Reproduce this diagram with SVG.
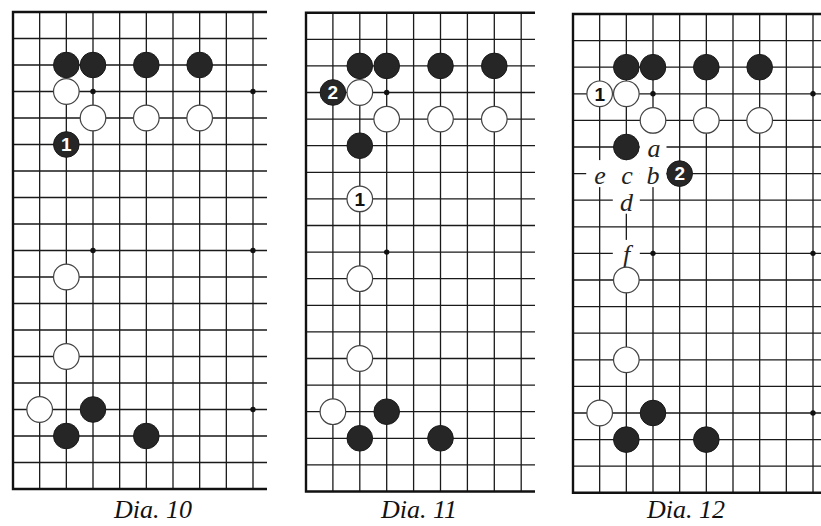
<svg xmlns="http://www.w3.org/2000/svg" width="821" height="526" viewBox="0 0 821 526">
<style>
.bg{fill:#ffffff}
.grid{stroke:#1a1a1a;stroke-width:1.3;fill:none}
.edge{stroke:#111;stroke-width:2.4;fill:none}
.b{fill:#262626;stroke:#1a1a1a;stroke-width:1}
.w{fill:#ffffff;stroke:#444;stroke-width:1.2}
.star{fill:#111}
.mask{fill:#ffffff}
.nw{font-family:"Liberation Sans",Arial,sans-serif;font-weight:bold;font-size:19px;fill:#ffffff;text-anchor:middle}
.nb{font-family:"Liberation Sans",Arial,sans-serif;font-weight:bold;font-size:19px;fill:#111;text-anchor:middle}
.lbl{font-family:"Liberation Serif","Times New Roman",serif;font-style:italic;font-size:26px;fill:#222;text-anchor:middle}
.cap{font-family:"Liberation Serif","Times New Roman",serif;font-style:italic;font-size:26px;fill:#111;text-anchor:middle}
</style>
<rect class="bg" x="0" y="0" width="821" height="526"/>

<!-- Dia. 10 -->
<g id="dia10">
<g id="dia10-grid">
<path class="grid" d="M39.67 12V489M66.33 12V489M93 12V489M119.67 12V489M146.33 12V489M173 12V489M199.67 12V489M226.33 12V489M253 12V489"/>
<path class="grid" d="M13 38.5H267M13 65H267M13 91.5H267M13 118H267M13 144.5H267M13 171H267M13 197.5H267M13 224H267M13 250.5H267M13 277H267M13 303.5H267M13 330H267M13 356.5H267M13 383H267M13 409.5H267M13 436H267M13 462.5H267"/>
<path class="edge" d="M267 12H13V489H267"/>
<circle class="star" cx="93" cy="91.5" r="2.7"/><circle class="star" cx="253" cy="91.5" r="2.7"/>
<circle class="star" cx="93" cy="250.5" r="2.7"/><circle class="star" cx="253" cy="250.5" r="2.7"/>
<circle class="star" cx="253" cy="409.5" r="2.7"/>
</g>
<g id="dia10-stones">
<circle class="b" cx="66.33" cy="65" r="12.8"/><circle class="b" cx="93" cy="65" r="12.8"/>
<circle class="b" cx="146.33" cy="65" r="12.8"/><circle class="b" cx="199.67" cy="65" r="12.8"/>
<circle class="w" cx="66.33" cy="91.5" r="12.8"/>
<circle class="w" cx="93" cy="118" r="12.8"/><circle class="w" cx="146.33" cy="118" r="12.8"/><circle class="w" cx="199.67" cy="118" r="12.8"/>
<g id="dia10-m1"><circle class="b" cx="66.33" cy="144.5" r="12.8"/><text class="nw" x="66.33" y="151.3">1</text></g>
<circle class="w" cx="66.33" cy="277" r="12.8"/>
<circle class="w" cx="66.33" cy="356.5" r="12.8"/>
<circle class="w" cx="39.67" cy="409.5" r="12.8"/>
<circle class="b" cx="93" cy="409.5" r="12.8"/>
<circle class="b" cx="66.33" cy="436" r="12.8"/><circle class="b" cx="146.33" cy="436" r="12.8"/>
</g>
<text id="cap10" class="cap" x="153" y="518">Dia. 10</text>
</g>

<!-- Dia. 11 -->
<g id="dia11">
<g id="dia11-grid">
<path class="grid" d="M332.9 12.7V491.5M359.8 12.7V491.5M386.7 12.7V491.5M413.6 12.7V491.5M440.5 12.7V491.5M467.4 12.7V491.5M494.3 12.7V491.5M521.2 12.7V491.5"/>
<path class="grid" d="M306 39.3H535M306 65.9H535M306 92.5H535M306 119.1H535M306 145.7H535M306 172.3H535M306 198.9H535M306 225.5H535M306 252.1H535M306 278.7H535M306 305.3H535M306 331.9H535M306 358.5H535M306 385.1H535M306 411.7H535M306 438.3H535M306 464.9H535"/>
<path class="edge" d="M535 12.7H306V491.5H535"/>
<circle class="star" cx="386.7" cy="92.5" r="2.7"/><circle class="star" cx="386.7" cy="252.1" r="2.7"/>
</g>
<g id="dia11-stones">
<circle class="b" cx="359.8" cy="65.9" r="12.8"/><circle class="b" cx="386.7" cy="65.9" r="12.8"/>
<circle class="b" cx="440.5" cy="65.9" r="12.8"/><circle class="b" cx="494.3" cy="65.9" r="12.8"/>
<g id="dia11-m2"><circle class="b" cx="332.9" cy="92.5" r="12.8"/><text class="nw" x="332.9" y="99.3">2</text></g>
<circle class="w" cx="359.8" cy="92.5" r="12.8"/>
<circle class="w" cx="386.7" cy="119.1" r="12.8"/><circle class="w" cx="440.5" cy="119.1" r="12.8"/><circle class="w" cx="494.3" cy="119.1" r="12.8"/>
<circle class="b" cx="359.8" cy="145.7" r="12.8"/>
<g id="dia11-m1"><circle class="w" cx="359.8" cy="198.9" r="12.8"/><text class="nb" x="359.8" y="205.7">1</text></g>
<circle class="w" cx="359.8" cy="278.7" r="12.8"/>
<circle class="w" cx="359.8" cy="358.5" r="12.8"/>
<circle class="w" cx="332.9" cy="411.7" r="12.8"/>
<circle class="b" cx="386.7" cy="411.7" r="12.8"/>
<circle class="b" cx="359.8" cy="438.3" r="12.8"/><circle class="b" cx="440.5" cy="438.3" r="12.8"/>
</g>
<text id="cap11" class="cap" x="419" y="518">Dia. 11</text>
</g>

<!-- Dia. 12 -->
<g id="dia12">
<g id="dia12-grid">
<path class="grid" d="M599.67 14V492.8M626.33 14V492.8M653 14V492.8M679.67 14V492.8M706.33 14V492.8M733 14V492.8M759.67 14V492.8M786.33 14V492.8M813 14V492.8"/>
<path class="grid" d="M573 40.6H821M573 67.2H821M573 93.8H821M573 120.4H821M573 147H821M573 173.6H821M573 200.2H821M573 226.8H821M573 253.4H821M573 280H821M573 306.6H821M573 333.2H821M573 359.8H821M573 386.4H821M573 413H821M573 439.6H821M573 466.2H821"/>
<path class="edge" d="M821 14H573V492.8H821"/>
<circle class="star" cx="653" cy="93.8" r="2.7"/><circle class="star" cx="813" cy="93.8" r="2.7"/>
<circle class="star" cx="653" cy="253.4" r="2.7"/><circle class="star" cx="813" cy="253.4" r="2.7"/>
<circle class="star" cx="813" cy="413" r="2.7"/>
</g>
<g id="dia12-labels">
<rect class="mask" x="639.5" y="133.5" width="27" height="27"/><text class="lbl" x="654" y="157">a</text>
<rect class="mask" x="586.2" y="160.1" width="27" height="27"/><text class="lbl" x="600" y="183.6">e</text>
<rect class="mask" x="612.8" y="160.1" width="27" height="27"/><text class="lbl" x="627" y="183.6">c</text>
<rect class="mask" x="639.5" y="160.1" width="27" height="27"/><text class="lbl" x="653" y="183.6">b</text>
<rect class="mask" x="612.8" y="186.7" width="27" height="27"/><text class="lbl" x="626.5" y="211">d</text>
<rect class="mask" x="612.8" y="239.9" width="27" height="27"/><text class="lbl" x="626.5" y="263">f</text>
</g>
<g id="dia12-stones">
<circle class="b" cx="626.33" cy="67.2" r="12.8"/><circle class="b" cx="653" cy="67.2" r="12.8"/>
<circle class="b" cx="706.33" cy="67.2" r="12.8"/><circle class="b" cx="759.67" cy="67.2" r="12.8"/>
<g id="dia12-m1"><circle class="w" cx="599.67" cy="93.8" r="12.8"/><text class="nb" x="599.67" y="100.6">1</text></g>
<circle class="w" cx="626.33" cy="93.8" r="12.8"/>
<circle class="w" cx="653" cy="120.4" r="12.8"/><circle class="w" cx="706.33" cy="120.4" r="12.8"/><circle class="w" cx="759.67" cy="120.4" r="12.8"/>
<circle class="b" cx="626.33" cy="147" r="12.8"/>
<g id="dia12-m2"><circle class="b" cx="679.67" cy="173.6" r="12.8"/><text class="nw" x="679.67" y="180.4">2</text></g>
<circle class="w" cx="626.33" cy="280" r="12.8"/>
<circle class="w" cx="626.33" cy="359.8" r="12.8"/>
<circle class="w" cx="599.67" cy="413" r="12.8"/>
<circle class="b" cx="653" cy="413" r="12.8"/>
<circle class="b" cx="626.33" cy="439.6" r="12.8"/><circle class="b" cx="706.33" cy="439.6" r="12.8"/>
</g>
<text id="cap12" class="cap" x="686" y="518">Dia. 12</text>
</g>
</svg>
